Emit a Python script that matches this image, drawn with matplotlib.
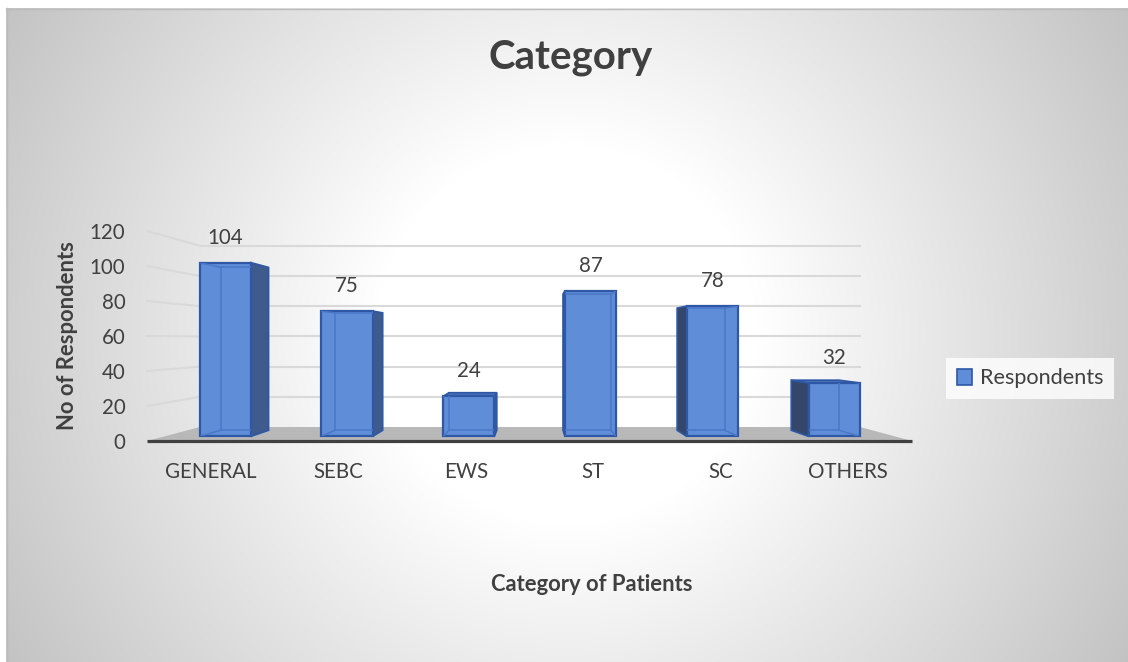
import numpy as np
import matplotlib
matplotlib.use("Agg")
import matplotlib.pyplot as plt
from matplotlib.patches import Polygon, Patch

# ---- data ----
categories = ["GENERAL", "SEBC", "EWS", "ST", "SC", "OTHERS"]
respondents = [104, 75, 24, 87, 78, 32]
y_ticks = [0, 20, 40, 60, 80, 100, 120]
title = "Category"
x_title = "Category of Patients"
y_title = "No of Respondents"
series_name = "Respondents"

# ---- styling ----
W, H, DPI = 1128, 662, 100
TEXT = "#404040"
FRONT = "#5f8dd8"
EDGE = "#2e58a6"
INNER = "#4a78c8"
SIDE_R = "#3f5a8c"
SIDE_L = "#34476b"
TOP = "#4a6fb5"
GRID = "#d9d9d9"
FLOOR = "#b8b8b8"
FS = 14.8
FS_BOLD = 15.8

plt.rcParams["font.family"] = ["Lato", "DejaVu Sans"]

fig = plt.figure(figsize=(W / DPI, H / DPI), dpi=DPI)

# ---- radial gradient chart background ----
bg = fig.add_axes([0, 0, 1, 1], zorder=-10)
yy, xx = np.mgrid[0:H, 0:W] + 0.5
r = np.hypot(xx - 567, yy - 335)
t = np.clip((r - 190) / (650 - 190), 0, 1)
g = (255 - 60 * t) / 255
img = np.dstack([g, g, g])
img[:8, :, :] = 1
img[:, :6, :] = 1
bg.imshow(img, extent=[0, W, H, 0], aspect="auto", interpolation="bilinear")
bg.plot([6.5, 6.5], [8, H], color="#bcbcbc", lw=1)
bg.plot([6, W], [8.5, 8.5], color="#bcbcbc", lw=1)
bg.set_xlim(0, W)
bg.set_ylim(H, 0)
bg.axis("off")

# ---- plot axes: front plane of the 3-D box ----
L, R, Y0, YTOP = 147, 912, 441, 231
ax = fig.add_axes([L / W, 1 - Y0 / H, (R - L) / W, (Y0 - YTOP) / H])
ax.set_xlim(-0.5, len(categories) - 0.5)
ax.set_ylim(y_ticks[0], y_ticks[-1])
ax.patch.set_visible(False)
for sp in ax.spines.values():
    sp.set_visible(False)

# perspective: vanishing point (data coords) and depth scales
VX, VY = 2.53, 58.3
S_WALL, S_FRONT, S_BACK = 0.863, 0.955, 0.895
HALF = 0.21
XL, XR = -0.5, len(categories) - 0.5


def proj(x, y, s):
    return VX + (x - VX) * s, VY + (y - VY) * s


# floor
floor = Polygon([proj(XL, 0, 1), proj(XR, 0, 1), proj(XR, 0, S_WALL), proj(XL, 0, S_WALL)],
                closed=True, facecolor=FLOOR, edgecolor="none", zorder=1, clip_on=False)
ax.add_patch(floor)

# gridlines on back wall and left side wall
for v in y_ticks[1:]:
    bx0, by0 = proj(XL, v, S_WALL)
    bx1, by1 = proj(XR, v, S_WALL)
    ax.plot([bx0, bx1], [by0, by1], color=GRID, lw=1.5, zorder=0.5, clip_on=False)
    ax.plot([XL, bx0], [v, by0], color=GRID, lw=1.5, zorder=0.5, clip_on=False)

# front edge of the floor
ax.plot([XL, XR], [0, 0], color=TEXT, lw=2.3, solid_capstyle="butt", zorder=2, clip_on=False)

# side and top faces
centers, heights, widths, bottoms = [], [], [], []
for i, v in enumerate(respondents):
    xl, xr = i - HALF, i + HALF
    if xr < VX:
        pts = [proj(xr, 0, S_FRONT), proj(xr, v, S_FRONT), proj(xr, v, S_BACK), proj(xr, 0, S_BACK)]
        ax.add_patch(Polygon(pts, closed=True, facecolor=SIDE_R, edgecolor=EDGE, lw=1.2,
                             zorder=3, clip_on=False))
    elif xl > VX:
        pts = [proj(xl, 0, S_FRONT), proj(xl, v, S_FRONT), proj(xl, v, S_BACK), proj(xl, 0, S_BACK)]
        ax.add_patch(Polygon(pts, closed=True, facecolor=SIDE_L, edgecolor=EDGE, lw=1.2,
                             zorder=3, clip_on=False))
    if v < VY:
        pts = [proj(xl, v, S_FRONT), proj(xr, v, S_FRONT), proj(xr, v, S_BACK), proj(xl, v, S_BACK)]
        ax.add_patch(Polygon(pts, closed=True, facecolor=TOP, edgecolor=EDGE, lw=1.2,
                             zorder=3, clip_on=False))
    x0, y0 = proj(xl, 0, S_FRONT)
    x1, y1 = proj(xr, v, S_FRONT)
    centers.append((x0 + x1) / 2)
    widths.append(x1 - x0)
    heights.append(y1 - y0)
    bottoms.append(y0)

# front faces
bars = ax.bar(centers, heights, width=widths, bottom=bottoms, color=FRONT,
              edgecolor=EDGE, linewidth=1.6, zorder=4, clip_on=False)

# back edges seen through the front face
for i, (v, patch) in enumerate(zip(respondents, bars.patches)):
    xl, xr = i - HALF, i + HALF
    back = [proj(xl, 0, S_BACK), proj(xr, 0, S_BACK), proj(xr, v, S_BACK), proj(xl, v, S_BACK)]
    front = [proj(xl, 0, S_FRONT), proj(xr, 0, S_FRONT), proj(xr, v, S_FRONT), proj(xl, v, S_FRONT)]
    segs = [(back[k], back[(k + 1) % 4]) for k in range(4)] + list(zip(front, back))
    for (a, b) in segs:
        ln, = ax.plot([a[0], b[0]], [a[1], b[1]], color=INNER, lw=1.1, zorder=5)
        ln.set_clip_path(patch)

# data labels
for c, v, b, h in zip(centers, respondents, bottoms, heights):
    ax.annotate(str(v), xy=(c, b + h), xytext=(0, 19 * 72 / DPI), textcoords="offset points",
                ha="center", va="baseline", fontsize=FS, color=TEXT, zorder=6)

# axis ticks
ax.set_yticks(y_ticks)
ax.set_xticks(range(len(categories)), categories)
ax.tick_params(axis="both", length=0, labelsize=FS, colors=TEXT)
ax.tick_params(axis="y", pad=15.5)
ax.tick_params(axis="x", pad=15)

# titles
fig.text(571 / W, 1 - 69 / H, title, ha="center", va="baseline", fontsize=29,
         fontweight="bold", color=TEXT)
fig.text(592 / W, 1 - 591 / H, x_title, ha="center", va="baseline", fontsize=FS_BOLD,
         fontweight="bold", color=TEXT)
fig.text(67 / W, 1 - 336 / H, y_title, ha="center", va="center", rotation=90,
         fontsize=FS_BOLD, fontweight="bold", color=TEXT)

# legend
leg = fig.legend(handles=[Patch(facecolor=FRONT, edgecolor=EDGE, lw=1.2, label=series_name)],
                 loc="center", bbox_to_anchor=(1030 / W, 1 - 378.5 / H),
                 bbox_transform=fig.transFigure, fontsize=15.6, frameon=True, fancybox=False,
                 handlelength=0.7, handleheight=0.7, handletextpad=0.35, borderpad=0.5,
                 labelcolor=TEXT)
leg.get_frame().set_facecolor((1, 1, 1, 0.35))
leg.get_frame().set_edgecolor("none")

fig.savefig("out.png", dpi=DPI)
